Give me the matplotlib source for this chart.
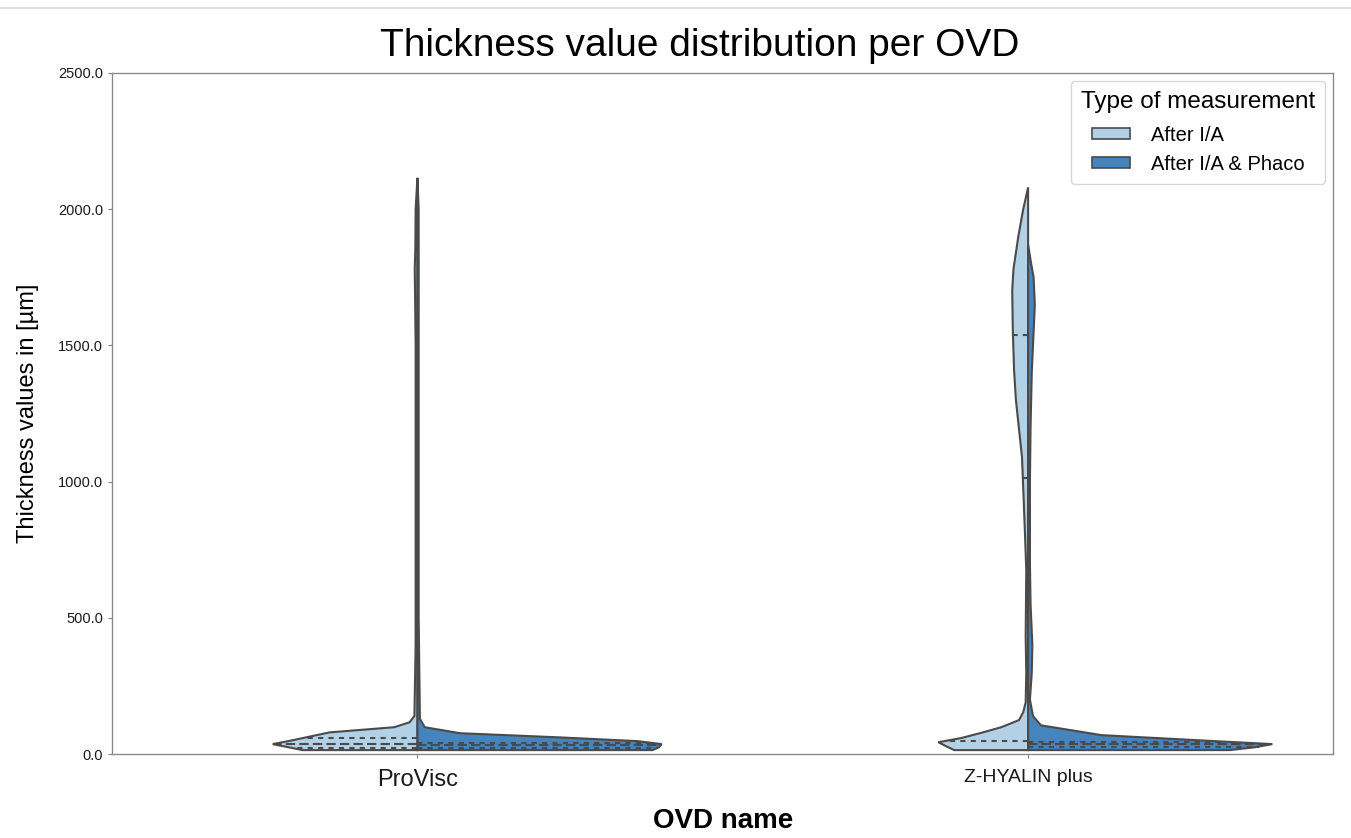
import numpy as np
import matplotlib
matplotlib.use("Agg")
import matplotlib.pyplot as plt
from matplotlib.patches import Polygon, Patch
from matplotlib.lines import Line2D

plt.rcParams['font.family'] = ['Liberation Sans', 'DejaVu Sans']

# ==== Data (outlines) ====
categories = ["ProVisc", "Z-HYALIN plus"]
hues = ["After I/A", "After I/A & Phaco"]
colors = ["#b3d1e6", "#4584bd"]

# half-violin outlines: thickness value [um] and half width [category units]
pv_ia_y = [15, 25, 37, 51, 80, 99, 117, 140, 400, 1000, 1500, 1700, 1780, 1850, 2000, 2115]
pv_ia_w = [0.188, 0.21, 0.237, 0.205, 0.144, 0.038, 0.013, 0.005, 0.003, 0.003, 0.003,
           0.004, 0.0045, 0.0035, 0.003, 0.0]
pv_ph_y = [15, 25, 37, 48, 62, 77, 99, 130, 500, 1000, 1500, 2000, 2110]
pv_ph_w = [0.385, 0.395, 0.40, 0.36, 0.23, 0.07, 0.012, 0.004, 0.002, 0.002, 0.002, 0.002, 0.0]
zh_ia_y = [15, 30, 44, 59, 80, 99, 125, 154, 190, 300, 430, 675, 800, 920, 1090, 1300,
           1410, 1550, 1703, 1780, 1900, 2000, 2080]
zh_ia_w = [0.121, 0.135, 0.147, 0.11, 0.074, 0.044, 0.015, 0.008, 0.004, 0.003, 0.004,
           0.003, 0.005, 0.007, 0.01, 0.02, 0.023, 0.025, 0.026, 0.024, 0.016, 0.008, 0.0]
zh_ph_y = [15, 25, 37, 51, 70, 106, 140, 200, 300, 400, 550, 700, 1000, 1200, 1400,
           1550, 1650, 1750, 1800, 1870]
zh_ph_w = [0.33, 0.37, 0.40, 0.28, 0.12, 0.021, 0.008, 0.003, 0.006, 0.007, 0.004, 0.003,
           0.003, 0.004, 0.006, 0.009, 0.011, 0.009, 0.005, 0.0]

# quartiles (q1, median, q3)
pv_ia_q = [22, 37, 59]
pv_ph_q = [24, 34, 42]
zh_ia_q = [48, 1013, 1540]
zh_ph_q = [28, 38, 46]

yticks = [0, 500, 1000, 1500, 2000, 2500]
# ================================================

fig = plt.figure(figsize=(13.51, 8.38), dpi=100)
ax = fig.add_axes([0.083, 0.100, 0.904, 0.813])

halves = [
    (0, -1, pv_ia_y, pv_ia_w, pv_ia_q, colors[0]),
    (0, 1, pv_ph_y, pv_ph_w, pv_ph_q, colors[1]),
    (1, -1, zh_ia_y, zh_ia_w, zh_ia_q, colors[0]),
    (1, 1, zh_ph_y, zh_ph_w, zh_ph_q, colors[1]),
]
edge = "#4a4a4a"
for c, side, ys, ws, qs, col in halves:
    ys = np.array(ys, float)
    ws = np.array(ws, float)
    verts = [(c, ys[0])] + [(c + side * w, y) for y, w in zip(ys, ws)] + [(c, ys[-1])]
    ax.add_patch(Polygon(verts, closed=True, facecolor=col, edgecolor=edge, lw=1.5, zorder=2))
    for i, q in enumerate(qs):
        w = np.interp(q, ys, ws)
        ls = (0, (4.5, 2)) if i == 1 else (0, (2.5, 2.5))
        ax.plot([c, c + side * w], [q, q], color=edge, lw=1.5, ls=ls, zorder=3)

ax.set_xlim(-0.5, 1.5)
ax.set_ylim(0, 2500)
ax.set_yticks(yticks)
ax.set_yticklabels([f"{v:.1f}" for v in yticks], fontsize=10.5)
ax.set_xticks([0, 1])
ax.set_xticklabels(categories)
ax.get_xticklabels()[0].set_fontsize(17)
ax.get_xticklabels()[1].set_fontsize(14)
ax.tick_params(axis='both', colors='#808080', labelcolor='#1a1a1a', length=3)
ax.tick_params(axis='x', pad=8)
for s in ax.spines.values():
    s.set_color('#8a8a8a')
    s.set_linewidth(1)

ax.set_xlabel("OVD name", fontsize=20, fontweight='bold', labelpad=12)
ax.set_ylabel("Thickness values in [µm]", fontsize=17, labelpad=14)
fig.suptitle("Thickness value distribution per OVD", fontsize=28, x=0.518, y=0.966)

handles = [Patch(facecolor=colors[i], edgecolor=edge, lw=1.2, label=hues[i]) for i in range(2)]
leg = ax.legend(handles=handles, title="Type of measurement", loc='upper right',
                fontsize=14.5, title_fontsize=17.5, frameon=True, borderaxespad=0.4,
                labelspacing=0.5, handlelength=1.9, handleheight=0.5,
                handletextpad=1.0, borderpad=0.5)
leg.get_frame().set_edgecolor('#cccccc')
leg._legend_box.sep = 9

fig.add_artist(Line2D([0, 1], [0.99, 0.99], color='#d9d9d9', lw=1.2))

fig.savefig("out.png", dpi=100, facecolor='white')
